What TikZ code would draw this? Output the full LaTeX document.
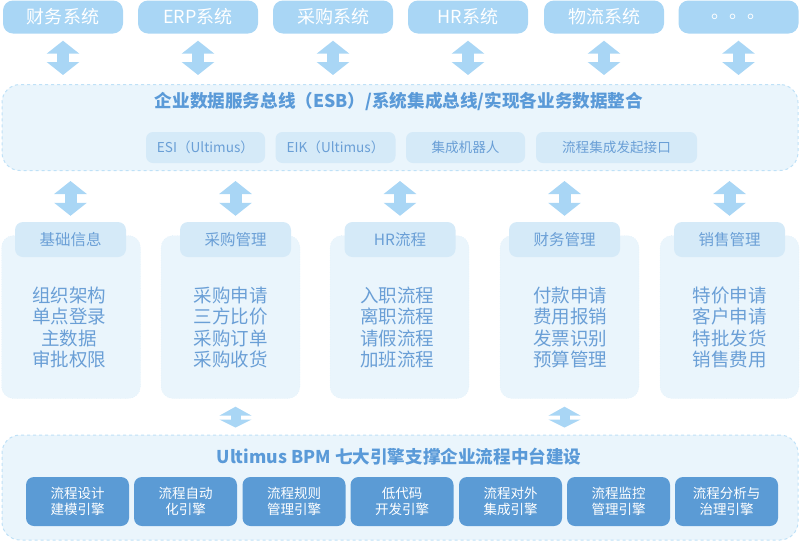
\documentclass[tikz,border=0pt]{standalone}
\usepackage{fontspec}
\setmainfont{Noto Sans CJK SC}
\usetikzlibrary{arrows.meta}
\definecolor{sysblue}{HTML}{A9D6F5}
\definecolor{panel}{HTML}{EAF5FC}
\definecolor{panelline}{HTML}{BFE1F7}
\definecolor{tagfill}{HTML}{D5EAF8}
\definecolor{textblue}{HTML}{6A9FD6}
\definecolor{titleblue}{HTML}{5A9AD8}
\definecolor{engine}{HTML}{5B9BD5}
\begin{document}
\begin{tikzpicture}[x=1pt,y=-1pt]
    \tikzstyle{sys} = [rectangle, rounded corners=10pt, minimum width=120pt, minimum height=33pt, inner sep=0pt, fill=sysblue, text=white, font=\fontsize{18}{20}\selectfont]
    \tikzstyle{bigpanel} = [rectangle, rounded corners=18pt, minimum width=796pt, inner sep=0pt, fill=panel, draw=panelline, dashed, line width=1pt]
    \tikzstyle{tag} = [rectangle, rounded corners=7pt, minimum height=31pt, inner sep=0pt, fill=tagfill, text=textblue, font=\fontsize{13.6}{15}\selectfont]
    \tikzstyle{column} = [rectangle, rounded corners=12pt, minimum width=139pt, minimum height=163pt, inner sep=0pt, fill=panel, draw=tagfill, dotted]
    \tikzstyle{head} = [rectangle, rounded corners=8pt, minimum width=111pt, minimum height=35pt, inner sep=0pt, fill=tagfill, text=textblue, font=\fontsize{15.5}{17}\selectfont]
    \tikzstyle{items} = [align=center, text=textblue, inner sep=0pt, font=\fontsize{18.5}{21.5}\selectfont]
    \tikzstyle{title} = [text=titleblue, inner sep=0pt, font=\bfseries\fontsize{17.6}{19}\selectfont]
    \tikzstyle{eng} = [rectangle, rounded corners=8pt, minimum width=103pt, minimum height=49pt, inner sep=0pt, fill=engine, text=white, align=center, font=\fontsize{13.5}{16}\selectfont]
    \tikzstyle{bus} = [draw=sysblue, line width=12pt, {Triangle[width=32pt,length=13pt]}-{Triangle[width=32pt,length=13pt]}, shorten <=7pt, shorten >=9pt]
    \tikzstyle{shortbus} = [draw=sysblue, line width=10pt, {Triangle[width=32pt,length=9pt]}-{Triangle[width=32pt,length=8pt]}]
    \useasboundingbox (0,0) rectangle (800,542);
    % systems on top
    \node (sys1) [sys] at (63,17) {财务系统};
    \node (sys2) [sys] at (198,17) {ERP系统};
    \node (sys3) [sys] at (333,17) {采购系统};
    \node (sys4) [sys] at (468,17) {HR系统};
    \node (sys5) [sys] at (604,17) {物流系统};
    \node (sys6) [sys] at (738.5,17) {。。。};
    % ESB layer
    \node (esb) [bigpanel, minimum height=86pt] at (400,127.5) {};
    \node (esbtitle) [title] at (399,101) {企业数据服务总线（ESB）/系统集成总线/实现各业务数据整合};
    \node (esi) [tag, minimum width=119pt] at (205.5,147.5) {ESI（Ultimus）};
    \node (eik) [tag, minimum width=120pt] at (335.5,147.5) {EIK（Ultimus）};
    \node (robot) [tag, minimum width=119pt] at (465.5,147.5) {集成机器人};
    \node (iface) [tag, minimum width=161pt] at (616.5,147.5) {流程集成发起接口};
    % business columns
    \node (col1) [column] at (71,317) {};
    \node (col2) [column] at (230.5,317) {};
    \node (col3) [column] at (399.5,317) {};
    \node (col4) [column] at (569.5,317) {};
    \node (col5) [column] at (729.5,317) {};
    \node (hd1) [head] at (70.5,239.5) {基础信息};
    \node (hd2) [head] at (235.5,239.5) {采购管理};
    \node (hd3) [head] at (400,239.5) {HR流程};
    \node (hd4) [head] at (564.5,239.5) {财务管理};
    \node (hd5) [head] at (729.5,239.5) {销售管理};
    \node (it1) [items] at (69,327.5) {组织架构\\单点登录\\主数据\\审批权限};
    \node (it2) [items] at (230.5,327.5) {采购申请\\三方比价\\采购订单\\采购收货};
    \node (it3) [items] at (397,327.5) {入职流程\\离职流程\\请假流程\\加班流程};
    \node (it4) [items] at (570,327.5) {付款申请\\费用报销\\发票识别\\预算管理};
    \node (it5) [items] at (729.5,327.5) {特价申请\\客户申请\\特批发货\\销售费用};
    % BPM layer
    \node (bpm) [bigpanel, minimum height=105pt] at (400,487.5) {};
    \node (bpmtitle) [title] at (399,457) {Ultimus BPM 七大引擎支撑企业流程中台建设};
    \node (e1) [eng] at (77.5,501.5) {流程设计\\建模引擎};
    \node (e2) [eng] at (185.5,501.5) {流程自动\\化引擎};
    \node (e3) [eng] at (294,501.5) {流程规则\\管理引擎};
    \node (e4) [eng] at (402,501.5) {低代码\\开发引擎};
    \node (e5) [eng] at (510.5,501.5) {流程对外\\集成引擎};
    \node (e6) [eng] at (618.5,501.5) {流程监控\\管理引擎};
    \node (e7) [eng] at (726.5,501.5) {流程分析与\\治理引擎};
    % connectors
    \draw[bus] (sys1) -- (sys1 |- esb.north);
    \draw[bus] (sys2) -- (sys2 |- esb.north);
    \draw[bus] (sys3) -- (sys3 |- esb.north);
    \draw[bus] (sys4) -- (sys4 |- esb.north);
    \draw[bus] (sys5) -- (sys5 |- esb.north);
    \draw[bus] (sys6) -- (sys6 |- esb.north);
    \draw[bus, shorten <=10pt, shorten >=6pt] (esb.south -| hd1) -- (hd1);
    \draw[bus, shorten <=10pt, shorten >=6pt] (esb.south -| hd2) -- (hd2);
    \draw[bus, shorten <=10pt, shorten >=6pt] (esb.south -| hd3) -- (hd3);
    \draw[bus, shorten <=10pt, shorten >=6pt] (esb.south -| hd4) -- (hd4);
    \draw[bus, shorten <=10pt, shorten >=6pt] (esb.south -| hd5) -- (hd5);
    \draw[shortbus, shorten <=8pt, shorten >=7pt] (hd2 |- col2.south) -- (hd2 |- bpm.north);
    \draw[shortbus, shorten <=8pt, shorten >=7pt] (hd4 |- col4.south) -- (hd4 |- bpm.north);
\end{tikzpicture}
\end{document}
